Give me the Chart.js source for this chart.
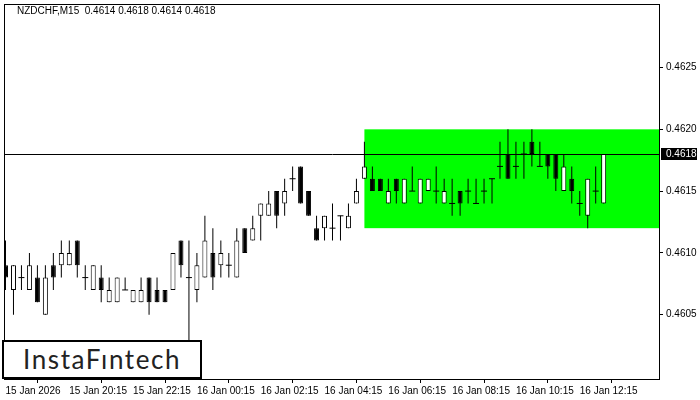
<!DOCTYPE html>
<html>
<head>
<meta charset="utf-8">
<script src="https://cdn.jsdelivr.net/npm/chart.js@4.4.1/dist/chart.umd.min.js"></script>
<style>
  body { margin: 0; background: #fff; }
  #wrap { position: relative; width: 700px; height: 400px; }
  #logo {
    position: absolute; left: 2px; top: 340px; width: 200px; height: 39px;
    box-sizing: border-box; border: 2px solid #000; background: #fff;
    font-family: Lato, sans-serif; font-size: 26px; color: #222;
    line-height: 35px; padding-left: 19px; letter-spacing: 1.6px;
  }
</style>
</head>
<body>
<div id="wrap">
  <canvas id="chart" width="700" height="400"></canvas>
  <div id="logo">InstaFıntech</div>
</div>
<script>
const symbolTitle = "NZDCHF,M15  0.4614 0.4618 0.4614 0.4618";

// OHLC of each M15 candle, oldest first
const opens = [
  0.4609, 0.4607, 0.4608, 0.4607, 0.4608, 0.4605, 0.4609, 0.4609, 0.4609, 0.4611,
  0.4608, 0.4607, 0.4608, 0.4606, 0.4606, 0.4607, 0.4606, 0.4606, 0.4608, 0.4607,
  0.4607, 0.4607, 0.4611, 0.4608, 0.4607, 0.4608, 0.4610, 0.4609, 0.4609, 0.4608,
  0.4612, 0.4611, 0.4613, 0.4613, 0.4615, 0.4614, 0.4616, 0.4617, 0.4615, 0.4612,
  0.4612, 0.4612, 0.4613, 0.4612, 0.4614, 0.4616, 0.4616, 0.4616, 0.4614, 0.4616,
  0.4614, 0.4615, 0.4614, 0.4615, 0.4615, 0.4614, 0.4614, 0.4615, 0.4615, 0.4614,
  0.4615, 0.4616, 0.4617, 0.4618, 0.4617, 0.4618, 0.4619, 0.4617, 0.4618, 0.4618,
  0.4615, 0.4616, 0.4614, 0.4613, 0.4615, 0.4614
];
const highs = [
  0.4611, 0.4609, 0.4609, 0.4610, 0.4609, 0.4609, 0.4610, 0.4611, 0.4611, 0.4611,
  0.4609, 0.4609, 0.4609, 0.4608, 0.4608, 0.4608, 0.4607, 0.4608, 0.4608, 0.4608,
  0.4607, 0.4610, 0.4611, 0.4611, 0.4610, 0.4613, 0.4612, 0.4611, 0.4610, 0.4612,
  0.4612, 0.4613, 0.4614, 0.4615, 0.4615, 0.4616, 0.4617, 0.4617, 0.4615, 0.4613,
  0.4613, 0.4614, 0.4613, 0.4614, 0.4616, 0.4619, 0.4617, 0.4616, 0.4616, 0.4616,
  0.4616, 0.4617, 0.4616, 0.4616, 0.4617, 0.4616, 0.4616, 0.4615, 0.4616, 0.4616,
  0.4616, 0.4616, 0.4619, 0.4620, 0.4619, 0.4619, 0.4620, 0.4619, 0.4618, 0.4618,
  0.4618, 0.4617, 0.4615, 0.4616, 0.4617, 0.4618
];
const lows = [
  0.4607, 0.4605, 0.4607, 0.4607, 0.4606, 0.4605, 0.4607, 0.4608, 0.4609, 0.4608,
  0.4607, 0.4607, 0.4606, 0.4606, 0.4606, 0.4607, 0.4606, 0.4606, 0.4605, 0.4606,
  0.4606, 0.4607, 0.4608, 0.4602, 0.4606, 0.4608, 0.4607, 0.4608, 0.4608, 0.4608,
  0.4610, 0.4611, 0.4611, 0.4613, 0.4612, 0.4613, 0.4615, 0.4614, 0.4613, 0.4611,
  0.4611, 0.4611, 0.4611, 0.4612, 0.4614, 0.4616, 0.4615, 0.4615, 0.4614, 0.4614,
  0.4614, 0.4615, 0.4614, 0.4615, 0.4614, 0.4614, 0.4613, 0.4613, 0.4614, 0.4614,
  0.4614, 0.4614, 0.4616, 0.4616, 0.4616, 0.4616, 0.4617, 0.4617, 0.4616, 0.4615,
  0.4615, 0.4614, 0.4613, 0.4612, 0.4614, 0.4614
];
const closes = [
  0.4608, 0.4609, 0.4608, 0.4609, 0.4606, 0.4608, 0.4608, 0.4610, 0.4610, 0.4609,
  0.4608, 0.4609, 0.4607, 0.4607, 0.4608, 0.4607, 0.4607, 0.4607, 0.4606, 0.4606,
  0.4606, 0.4610, 0.4609, 0.4608, 0.4609, 0.4611, 0.4608, 0.4610, 0.4609, 0.4611,
  0.4610, 0.4612, 0.4614, 0.4614, 0.4613, 0.4615, 0.4616, 0.4614, 0.4613, 0.4611,
  0.4613, 0.4612, 0.4613, 0.4613, 0.4615, 0.4617, 0.4615, 0.4615, 0.4615, 0.4615,
  0.4616, 0.4615, 0.4616, 0.4616, 0.4615, 0.4615, 0.4614, 0.4614, 0.4615, 0.4614,
  0.4615, 0.4616, 0.4617, 0.4616, 0.4617, 0.4618, 0.4618, 0.4617, 0.4617, 0.4616,
  0.4617, 0.4615, 0.4614, 0.4616, 0.4615, 0.4618
];

// time axis: a label every 8 candles (2 hours)
const timeTickIndex = [0, 8, 16, 24, 32, 40, 48, 56, 64, 72];
const timeTickLabels = [
  "15 Jan 2026", "15 Jan 20:15", "15 Jan 22:15", "16 Jan 00:15", "16 Jan 02:15",
  "16 Jan 04:15", "16 Jan 06:15", "16 Jan 08:15", "16 Jan 10:15", "16 Jan 12:15"
];
const priceTicks = [0.4605, 0.4610, 0.4615, 0.4620, 0.4625];

// flag (rectangle) pattern and current price line
const zoneStartIndex = 45;
const zoneTop = 0.4620;
const zoneBottom = 0.4612;
const lastPrice = 0.4618;

const bodies = [], wicks = [], dojis = [];
opens.forEach((o, i) => {
  wicks.push({ x: i, y: [lows[i], highs[i]] });
  if (o === closes[i]) dojis.push({ x: i, y: o });
  else bodies.push({ x: i, y: [o, closes[i]] });
});

const fontFamily = "'Liberation Sans', Arial, sans-serif";

const chartExtras = {
  id: "chartExtras",
  beforeDatasetsDraw(chart) {
    const { ctx, chartArea, scales } = chart;
    const x0 = scales.x.getPixelForValue(zoneStartIndex);
    const yTop = scales.y.getPixelForValue(zoneTop);
    const yBot = scales.y.getPixelForValue(zoneBottom);
    ctx.save();
    ctx.fillStyle = "#00ff00";
    ctx.fillRect(x0, yTop, chartArea.right - x0, yBot - yTop);
    const yp = Math.round(scales.y.getPixelForValue(lastPrice)) + 0.5;
    ctx.strokeStyle = "#000";
    ctx.lineWidth = 1;
    ctx.beginPath();
    ctx.moveTo(chartArea.left, yp);
    ctx.lineTo(chartArea.right, yp);
    ctx.stroke();
    ctx.restore();
  },
  afterDraw(chart) {
    const { ctx, chartArea, scales } = chart;
    ctx.save();
    ctx.strokeStyle = "#000";
    ctx.lineWidth = 1;
    ctx.strokeRect(chartArea.left - 0.5, chartArea.top - 0.5,
      chartArea.right - chartArea.left, chartArea.bottom - chartArea.top);
    // last price label
    const yp = Math.round(scales.y.getPixelForValue(lastPrice));
    ctx.fillStyle = "#000";
    ctx.fillRect(chartArea.right + 1, yp - 6, 36, 12);
    ctx.fillStyle = "#fff";
    ctx.font = "10px " + fontFamily;
    ctx.textBaseline = "middle";
    ctx.fillText(lastPrice.toFixed(4), chartArea.right + 6, yp + 0.5);
    // symbol header
    ctx.fillStyle = "#000";
    ctx.fillText(symbolTitle, 17, 11);
    ctx.restore();
  }
};

new Chart(document.getElementById("chart"), {
  type: "bar",
  data: {
    datasets: [
      {
        type: "line",
        data: dojis,
        showLine: false,
        pointStyle: "line",
        pointRadius: 3,
        pointBorderWidth: 1,
        borderColor: "#000",
        order: 0
      },
      {
        data: bodies,
        barThickness: 5,
        borderWidth: 1,
        borderSkipped: false,
        borderColor: "#000",
        inflateAmount: 0,
        backgroundColor: (c) => (c.raw && c.raw.y[1] > c.raw.y[0] ? "#fff" : "#000"),
        grouped: false,
        order: 1
      },
      {
        data: wicks,
        barThickness: 1,
        borderWidth: 0,
        inflateAmount: 0,
        backgroundColor: "#000",
        grouped: false,
        order: 2
      }
    ]
  },
  options: {
    responsive: false,
    animation: false,
    layout: { padding: { left: 3, top: 3, right: 0, bottom: 0 } },
    plugins: { legend: { display: false }, tooltip: { enabled: false } },
    scales: {
      x: {
        type: "linear",
        min: -0.0625,
        max: 82.0625,
        offset: false,
        border: { display: false },
        grid: { drawOnChartArea: false, tickLength: 3, color: "#000" },
        afterBuildTicks: (s) => { s.ticks = timeTickIndex.map((v) => ({ value: v })); },
        afterFit: (s) => { s.height = 20; s.paddingLeft = 0; s.paddingRight = 0; },
        ticks: {
          autoSkip: false,
          maxRotation: 0,
          align: "start",
          padding: 2,
          color: "#000",
          font: { family: fontFamily, size: 10 },
          callback: (v, i) => timeTickLabels[i]
        }
      },
      y: {
        position: "right",
        min: 0.459971,
        max: 0.4630064,
        border: { display: false },
        grid: { drawOnChartArea: false, tickLength: 3, color: "#000" },
        afterBuildTicks: (s) => { s.ticks = priceTicks.map((v) => ({ value: v })); },
        afterFit: (s) => { s.width = 40; s.paddingTop = 0; s.paddingBottom = 0; },
        ticks: {
          padding: 3,
          color: "#000",
          font: { family: fontFamily, size: 10 },
          callback: (v) => v.toFixed(4)
        }
      }
    }
  },
  plugins: [chartExtras]
});
</script>
</body>
</html>
